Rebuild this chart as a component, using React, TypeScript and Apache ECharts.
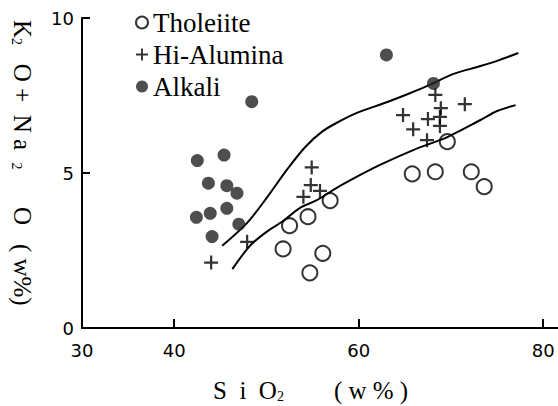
import React, { useEffect, useRef } from 'react';
import * as echarts from 'echarts';

// SiO2 (w%) and K2O+Na2O (w%)
const tholeiiteSiO2 = [56.9, 54.5, 52.5, 51.8, 56.1, 54.7, 69.6, 65.8, 68.3, 72.2, 73.6];
const tholeiiteAlk = [4.11, 3.59, 3.3, 2.55, 2.41, 1.78, 6.01, 4.97, 5.04, 5.04, 4.56];

const hiAluminaSiO2 = [44.0, 47.9, 54.9, 54.8, 54.0, 55.8, 68.3, 68.9, 71.5, 64.8, 67.5, 68.8, 65.9, 67.4, 68.8];
const hiAluminaAlk = [2.11, 2.78, 5.18, 4.61, 4.23, 4.42, 7.52, 7.09, 7.22, 6.87, 6.74, 6.52, 6.41, 6.06, 6.81];

const alkaliSiO2 = [42.5, 45.4, 43.7, 45.7, 46.8, 45.7, 42.4, 43.9, 47.0, 44.1, 48.4, 63.0, 68.1];
const alkaliAlk = [5.4, 5.58, 4.67, 4.59, 4.35, 3.86, 3.57, 3.7, 3.35, 2.95, 7.3, 8.81, 7.89];

const upperSiO2 = [45.2, 47.9, 50.1, 52.2, 54.2, 56.1, 58.0, 59.8, 63.1, 65.6, 67.7, 70.2, 73.2, 75.3, 77.3];
const upperAlk = [2.65, 3.39, 4.23, 5.1, 5.84, 6.35, 6.68, 6.94, 7.29, 7.58, 7.84, 8.19, 8.45, 8.65, 8.87];

const lowerSiO2 = [46.3, 48.2, 50.0, 51.8, 53.6, 55.5, 57.2, 59.1, 62.3, 65.9, 69.6, 73.2, 75.0, 77.0];
const lowerAlk = [1.9, 2.65, 3.1, 3.45, 3.87, 4.13, 4.45, 4.77, 5.26, 5.74, 6.16, 6.71, 7.0, 7.19];

const xLabelValues = [30, 40, 60, 80];
const xTickValues = [40, 60, 80];
const legendNames = ['Tholeiite', 'Hi-Alumina', 'Alkali'];

const zip = (xs: number[], ys: number[]) => xs.map((x, i) => [x, ys[i]]);

const PLUS = 'path://M4.2,0H5.8V4.2H10V5.8H5.8V10H4.2V5.8H0V4.2H4.2Z';
const NB = '\u00a0';
const rep = (n: number) => NB.repeat(n);

const SERIF = 'Liberation Serif';

export default function App() {
  const ref = useRef<HTMLDivElement>(null);
  useEffect(() => {
    const chart = echarts.init(ref.current!, null, { renderer: 'svg' });
    const titleRich = {
      a: { fontSize: 25, fontFamily: SERIF, color: '#000', lineHeight: 26 },
      s: { fontSize: 14, fontFamily: SERIF, color: '#000', lineHeight: 14, verticalAlign: 'bottom' },
    };
    const legendText = { fontFamily: SERIF, fontSize: 27, lineHeight: 27, color: '#000' };
    chart.setOption({
      animation: false,
      backgroundColor: '#fff',
      grid: { left: 82, right: 0, top: 18, bottom: 78, containLabel: false },
      xAxis: {
        type: 'value',
        min: 30,
        max: 81.6,
        axisLine: { show: true, lineStyle: { color: '#000', width: 2 } },
        axisTick: { show: true, inside: true, length: 9, customValues: xTickValues, lineStyle: { color: '#000', width: 2 } },
        axisLabel: { customValues: xLabelValues, margin: 13, fontFamily: 'DejaVu Sans', fontSize: 18, color: '#000' },
        splitLine: { show: false },
      },
      yAxis: {
        type: 'value',
        min: 0,
        max: 10,
        interval: 5,
        axisLine: { show: true, lineStyle: { color: '#000', width: 2 } },
        axisTick: { show: true, inside: true, length: 8, lineStyle: { color: '#000', width: 2 } },
        axisLabel: { margin: 8, fontFamily: 'DejaVu Sans', fontSize: 18, color: '#000' },
        splitLine: { show: false },
      },
      legend: {
        data: legendNames,
        orient: 'vertical',
        left: 130,
        top: 4,
        itemGap: 5,
        itemWidth: 12,
        itemHeight: 12,
        selectedMode: false,
        textStyle: legendText,
      },
      graphic: [
        {
          type: 'text',
          x: 22,
          y: 20,
          rotation: -Math.PI / 2,
          style: {
            text:
              '{a|K}{s|2}{a|' + rep(3) + 'O' + NB + '+' + rep(2) + 'N' + NB + 'a' + rep(2) + '}{s|2}{a|' +
              rep(6) + 'O' + rep(3) + '(' + NB + 'w%)}',
            rich: titleRich,
            textAlign: 'left',
            textVerticalAlign: 'middle',
          },
        },
        {
          type: 'text',
          x: 213,
          y: 390,
          style: {
            text: '{a|S' + rep(2) + 'i' + rep(2) + 'O}{s|2}{a|' + rep(8) + '(' + NB + 'w' + NB + '%' + NB + ')}',
            rich: titleRich,
            textAlign: 'left',
            textVerticalAlign: 'middle',
          },
        },
      ],
      series: [
        {
          name: 'upper',
          type: 'line',
          data: zip(upperSiO2, upperAlk),
          symbol: 'none',
          smooth: 0.3,
          lineStyle: { color: '#000', width: 2 },
          z: 1,
        },
        {
          name: 'lower',
          type: 'line',
          data: zip(lowerSiO2, lowerAlk),
          symbol: 'none',
          smooth: 0.3,
          lineStyle: { color: '#000', width: 2 },
          z: 1,
        },
        {
          name: 'Tholeiite',
          type: 'scatter',
          symbol: 'circle',
          symbolSize: 15,
          data: zip(tholeiiteSiO2, tholeiiteAlk),
          itemStyle: { color: 'rgba(0,0,0,0)', borderColor: '#000', borderWidth: 2 },
          z: 3,
        },
        {
          name: 'Hi-Alumina',
          type: 'scatter',
          symbol: PLUS,
          symbolSize: 14,
          data: zip(hiAluminaSiO2, hiAluminaAlk),
          itemStyle: { color: '#000' },
          z: 3,
        },
        {
          name: 'Alkali',
          type: 'scatter',
          symbol: 'circle',
          symbolSize: 13,
          data: zip(alkaliSiO2, alkaliAlk),
          itemStyle: { color: '#222' },
          z: 3,
        },
      ],
    });
    return () => chart.dispose();
  }, []);
  return <div ref={ref} style={{ position: 'absolute', left: 0, top: 0, width: 558, height: 406 }} />;
}
